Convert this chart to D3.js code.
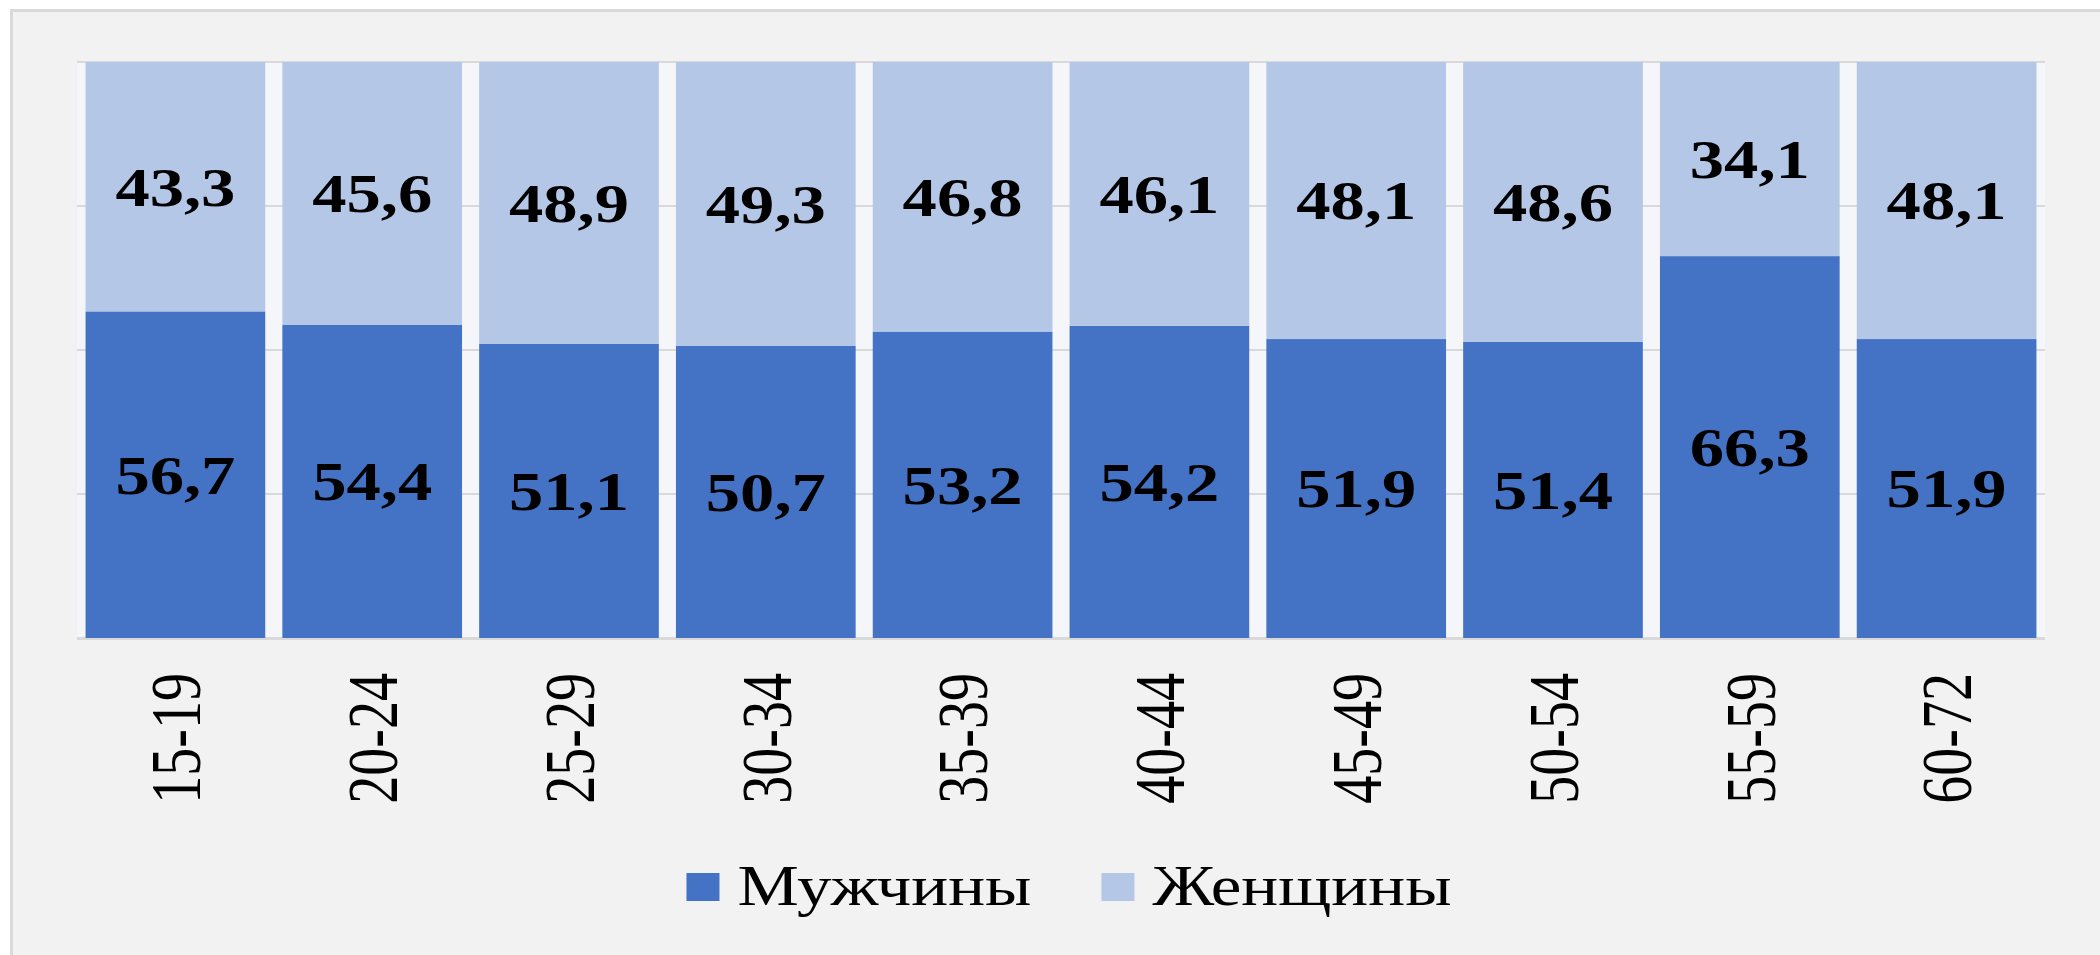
<!DOCTYPE html>
<html lang="ru">
<head>
    <meta charset="UTF-8">
    <title>Мужчины и женщины по возрастным группам</title>
    <script src="https://d3js.org/d3.v7.min.js"></script>
    <style>
        body, html {
            margin: 0;
            background-color: #ffffff;
        }
        text {
            font-family: "Liberation Serif", "Times New Roman", serif;
            fill: #000;
        }
    </style>
</head>
<body>
    <div id="chart"></div>

    <script>
        // Data
        const ageGroups = ["15-19", "20-24", "25-29", "30-34", "35-39", "40-44", "45-49", "50-54", "55-59", "60-72"];
        const men   = [56.7, 54.4, 51.1, 50.7, 53.2, 54.2, 51.9, 51.4, 66.3, 51.9];
        const women = [43.3, 45.6, 48.9, 49.3, 46.8, 46.1, 48.1, 48.6, 34.1, 48.1];
        const seriesNames = ["Мужчины", "Женщины"];
        const yTicks = [0, 25, 50, 75, 100];

        const width = 2100;
        const height = 955;
        const margin = { top: 62, right: 55, bottom: 317, left: 77 };
        const SX = 1.27; // source picture is stretched horizontally

        const colors = ["#4472c4", "#b4c7e7"];

        const svg = d3.select("#chart")
            .append("svg")
            .attr("width", width)
            .attr("height", height);

        // panel background + border
        svg.append("rect")
            .attr("x", 11.5).attr("y", 10.5)
            .attr("width", width).attr("height", height)
            .attr("fill", "#f2f2f2")
            .attr("stroke", "#d9d9d9")
            .attr("stroke-width", 3);

        const x = d3.scaleBand()
            .domain(ageGroups)
            .range([margin.left, width - margin.right])
            .paddingInner(0.087)
            .paddingOuter(0.0435);

        const y = d3.scaleLinear()
            .domain([0, 100])
            .range([height - margin.bottom, margin.top]);

        // plot area
        svg.append("rect")
            .attr("x", margin.left)
            .attr("y", margin.top)
            .attr("width", width - margin.left - margin.right)
            .attr("height", y(0) - margin.top)
            .attr("fill", "#f4f6fa");

        svg.append("defs").append("clipPath")
            .attr("id", "plotclip")
            .append("rect")
            .attr("x", margin.left)
            .attr("y", margin.top)
            .attr("width", width - margin.left - margin.right)
            .attr("height", y(0) - margin.top);

        // gridlines
        svg.append("g")
            .selectAll("line")
            .data(yTicks)
            .join("line")
            .attr("x1", margin.left)
            .attr("x2", width - margin.right)
            .attr("y1", d => y(d))
            .attr("y2", d => y(d))
            .attr("stroke", "#d9d9d9")
            .attr("stroke-width", 2);

        // stacked bars
        const rows = ageGroups.map((g, i) => ({ group: g, m: men[i], w: women[i] }));
        const stacked = d3.stack().keys(["m", "w"])(rows);

        const layers = svg.append("g")
            .attr("clip-path", "url(#plotclip)")
            .selectAll("g")
            .data(stacked)
            .join("g")
            .attr("fill", (d, i) => colors[i]);

        layers.selectAll("rect")
            .data(d => d)
            .join("rect")
            .attr("x", d => x(d.data.group))
            .attr("width", x.bandwidth())
            .attr("y", d => y(d[1]))
            .attr("height", d => y(d[0]) - y(d[1]));

        // baseline
        svg.append("line")
            .attr("x1", margin.left)
            .attr("x2", width - margin.right)
            .attr("y1", y(0) + 1)
            .attr("y2", y(0) + 1)
            .attr("stroke", "#d9d9d9")
            .attr("stroke-width", 2);

        // value labels
        const fmt = v => String(v.toFixed(1)).replace(".", ",");
        const labels = svg.append("g");
        stacked.forEach(layer => {
            labels.selectAll(null)
                .data(layer)
                .join("text")
                .attr("transform", d => {
                    const top = Math.max(y(d[1]), margin.top);
                    const cy = (top + y(d[0])) / 2;
                    return `translate(${x(d.data.group) + x.bandwidth() / 2},${cy}) scale(${SX},1)`;
                })
                .attr("text-anchor", "middle")
                .attr("dy", "0.35em")
                .style("font-size", "54px")
                .style("font-weight", "bold")
                .text(d => fmt(d[1] - d[0]));
        });

        // x axis labels (rotated)
        svg.append("g")
            .selectAll("text")
            .data(ageGroups)
            .join("text")
            .attr("transform", d => `translate(${x(d) + x.bandwidth() / 2},${y(0) + 35}) scale(${SX},1) rotate(-90)`)
            .attr("text-anchor", "end")
            .attr("dy", "0.35em")
            .style("font-size", "56px")
            .text(d => d);

        // legend
        const legend = svg.append("g");
        const items = legend.selectAll("g")
            .data(seriesNames)
            .join("g");
        items.append("rect")
            .attr("width", 33)
            .attr("height", 28)
            .attr("y", -14)
            .attr("fill", (d, i) => colors[i]);
        items.append("text")
            .attr("transform", `translate(51,0) scale(${SX * 0.97},1)`)
            .attr("dy", "0.33em")
            .style("font-size", "56px")
            .text(d => d);

        let cursor = 0;
        const offsets = [];
        items.each(function () {
            offsets.push(cursor);
            cursor += this.getBBox().width + 70;
        });
        const total = cursor - 70;
        const legendCenter = 1069;
        items.attr("transform", (d, i) => `translate(${legendCenter - total / 2 + offsets[i]},887)`);
    </script>
</body>
</html>
